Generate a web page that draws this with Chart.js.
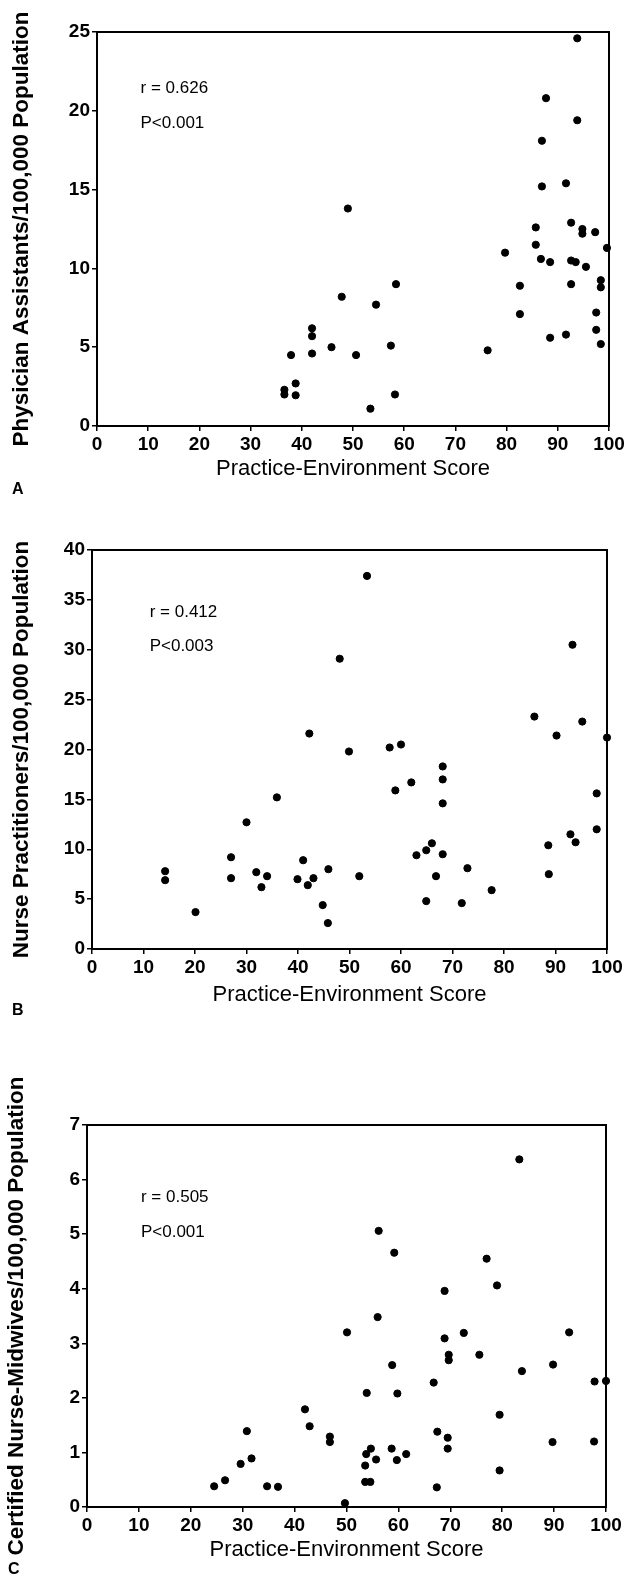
<!DOCTYPE html>
<html>
<head>
<meta charset="utf-8">
<script src="https://cdn.jsdelivr.net/npm/chart.js@4.4.0/dist/chart.umd.min.js"></script>
<style>
body { margin: 0; background: #fff; width: 631px; height: 1591px; position: relative; overflow: hidden; font-family: "Liberation Sans", Arial, sans-serif; }
.panel { position: absolute; left: 0; width: 631px; }
.tag { position: absolute; font-weight: bold; font-size: 16px; color: #000; }
</style>
</head>
<body>
<div class="panel" style="top:0;height:500px"><canvas id="chartA"></canvas></div>
<div class="panel" style="top:510px;height:505px"><canvas id="chartB"></canvas></div>
<div class="panel" style="top:1070px;height:521px"><canvas id="chartC"></canvas></div>
<div class="tag" style="left:12px;top:480px">A</div>
<div class="tag" style="left:12px;top:1001px">B</div>
<div class="tag" style="left:8px;top:1560px">C</div>
<script>
// Panel A - physician assistants
const paScore = [93.8, 87.7, 93.8, 86.9, 86.9, 91.6, 49.0, 85.7, 92.6, 94.8, 94.8, 97.3, 85.7, 99.6, 79.7, 86.7,
  88.5, 92.6, 93.5, 95.5, 98.4, 98.4, 82.6, 82.6, 92.6, 97.5, 97.5, 98.4, 88.5, 91.6, 76.3, 58.4, 47.8, 54.5,
  42.0, 42.0, 42.0, 37.9, 45.8, 50.6, 57.4, 36.6, 36.6, 38.8, 38.8, 58.2, 53.4];
const paRate = [24.6, 20.8, 19.4, 18.1, 15.2, 15.4, 13.8, 12.6, 12.9, 12.5, 12.2, 12.3, 11.5, 11.3, 11.0, 10.6,
  10.4, 10.5, 10.4, 10.1, 9.25, 8.8, 8.9, 7.1, 9.0, 7.2, 6.1, 5.2, 5.6, 5.8, 4.8, 9.0, 8.2, 7.7,
  6.2, 5.7, 4.6, 4.5, 5.0, 4.5, 5.1, 2.3, 2.0, 2.7, 1.95, 2.0, 1.1];

// Panel B - nurse practitioners
const npScore = [53.4, 93.3, 48.1, 85.9, 95.2, 90.2, 100, 42.2, 49.9, 57.8, 60.0, 68.1, 68.1, 62.0, 58.9, 68.1,
  35.9, 30.0, 98.0, 98.0, 92.9, 93.9, 88.6, 66.0, 64.9, 63.0, 68.1, 66.8, 72.9, 88.7, 77.6, 71.8, 64.9, 51.9,
  45.9, 41.0, 39.9, 41.9, 43.0, 44.8, 45.8, 27.0, 27.0, 31.9, 32.9, 34.0, 14.2, 14.2, 20.1];
const npRate = [37.4, 30.5, 29.1, 23.3, 22.8, 21.4, 21.2, 21.6, 19.8, 20.2, 20.5, 18.3, 17.0, 16.7, 15.9, 14.6,
  15.2, 12.7, 15.6, 12.0, 11.5, 10.7, 10.4, 10.6, 9.9, 9.4, 9.5, 7.3, 8.1, 7.5, 5.9, 4.6, 4.8, 7.3,
  8.0, 8.9, 7.0, 6.4, 7.1, 4.4, 2.6, 9.2, 7.1, 7.7, 6.2, 7.3, 7.8, 6.9, 3.7];

// Panel C - certified nurse-midwives
const cnmScore = [83.3, 56.2, 59.2, 77.0, 79.0, 68.9, 56.0, 50.1, 72.6, 92.9, 68.9, 69.7, 69.7, 75.6, 58.8, 89.8,
  83.8, 66.8, 97.8, 100, 53.9, 59.8, 42.0, 42.9, 79.5, 46.8, 46.8, 30.8, 67.5, 69.5, 69.5, 89.7, 97.7, 54.7,
  53.8, 58.7, 61.5, 55.7, 59.7, 53.6, 31.7, 29.6, 79.5, 26.6, 24.5, 34.7, 36.8, 53.6, 54.6, 67.4, 49.7];
const cnmRate = [6.37, 5.06, 4.66, 4.55, 4.06, 3.96, 3.48, 3.2, 3.19, 3.2, 3.09, 2.79, 2.69, 2.79, 2.6, 2.61,
  2.49, 2.28, 2.3, 2.31, 2.09, 2.08, 1.79, 1.48, 1.69, 1.29, 1.19, 1.39, 1.38, 1.27, 1.07, 1.19, 1.2, 1.07,
  0.97, 1.07, 0.97, 0.87, 0.86, 0.76, 0.89, 0.79, 0.67, 0.49, 0.38, 0.38, 0.37, 0.46, 0.46, 0.36, 0.07];

const xTitle = 'Practice-Environment Score';
const fontFamily = '"Liberation Sans", Arial, sans-serif';

// frame round the plot area + r / P text
const framePlugin = {
  id: 'frame',
  afterDraw(chart, args, opts) {
    const ctx = chart.ctx;
    const a = chart.chartArea;
    ctx.save();
    ctx.strokeStyle = '#000';
    ctx.lineWidth = 2;
    ctx.strokeRect(a.left, a.top, a.right - a.left, a.bottom - a.top);
    ctx.fillStyle = '#000';
    ctx.font = '17px ' + fontFamily;
    ctx.textBaseline = 'middle';
    const xs = chart.scales.x, ys = chart.scales.y;
    opts.lines.forEach(function (l) {
      ctx.fillText(l.text, xs.getPixelForValue(l.x), ys.getPixelForValue(l.y));
    });
    ctx.restore();
  }
};

function makeChart(id, xs, ys, cfg) {
  const points = xs.map((x, i) => ({ x: x, y: ys[i] }));
  return new Chart(document.getElementById(id), {
    type: 'scatter',
    data: {
      datasets: [{
        data: points,
        backgroundColor: '#000',
        borderColor: '#000',
        pointRadius: 3.6,
        pointHoverRadius: 3.6,
        clip: false
      }]
    },
    plugins: [framePlugin],
    options: {
      responsive: true,
      maintainAspectRatio: false,
      animation: false,
      layout: { padding: { top: cfg.padTop, right: cfg.padRight, left: 0, bottom: 0 } },
      plugins: {
        legend: { display: false },
        tooltip: { enabled: false },
        frame: { lines: cfg.lines }
      },
      scales: {
        x: {
          type: 'linear',
          min: 0,
          max: 100,
          ticks: { stepSize: 10, color: '#000', padding: 2, font: { family: fontFamily, size: 19, weight: 'bold' } },
          grid: { drawOnChartArea: false, color: '#000', lineWidth: 1.5, tickLength: 5 },
          border: { display: false },
          title: { display: true, text: xTitle, color: '#000', padding: { top: 4, bottom: cfg.xTitlePad },
            font: { family: fontFamily, size: 22 } },
          afterFit: function (scale) { scale.height = cfg.xHeight; }
        },
        y: {
          type: 'linear',
          min: 0,
          max: cfg.yMax,
          ticks: { stepSize: cfg.yStep, color: '#000', padding: 2, font: { family: fontFamily, size: 19, weight: 'bold' } },
          grid: { drawOnChartArea: false, color: '#000', lineWidth: 1.5, tickLength: 5 },
          border: { display: false },
          title: { display: true, text: cfg.yTitle, color: '#000', padding: { top: cfg.yTitlePad, bottom: 0 },
            font: { family: fontFamily, size: cfg.yTitleSize, weight: 'bold' } },
          afterFit: function (scale) { scale.width = cfg.yWidth; }
        }
      }
    }
  });
}

makeChart('chartA', paScore, paRate, {
  padTop: 32, padRight: 22, xHeight: 74, yWidth: 97, xTitlePad: 17.5, yTitlePad: 8,
  yMax: 25, yStep: 5, yTitle: 'Physician Assistants/100,000 Population', yTitleSize: 22.5,
  lines: [{ text: 'r = 0.626', x: 8.5, y: 21.4 }, { text: 'P<0.001', x: 8.5, y: 19.2 }]
});

makeChart('chartB', npScore, npRate, {
  padTop: 40, padRight: 24, xHeight: 66, yWidth: 92, xTitlePad: 6.5, yTitlePad: 8,
  yMax: 40, yStep: 5, yTitle: 'Nurse Practitioners/100,000 Population', yTitleSize: 22.5,
  lines: [{ text: 'r = 0.412', x: 11.2, y: 33.8 }, { text: 'P<0.003', x: 11.2, y: 30.3 }]
});

makeChart('chartC', cnmScore, cnmRate, {
  padTop: 55, padRight: 25, xHeight: 84, yWidth: 87, xTitlePad: 27.5, yTitlePad: 3,
  yMax: 7, yStep: 1, yTitle: 'Certified Nurse-Midwives/100,000 Population', yTitleSize: 22.5,
  lines: [{ text: 'r = 0.505', x: 10.4, y: 5.68 }, { text: 'P<0.001', x: 10.4, y: 5.03 }]
});
</script>
</body>
</html>
